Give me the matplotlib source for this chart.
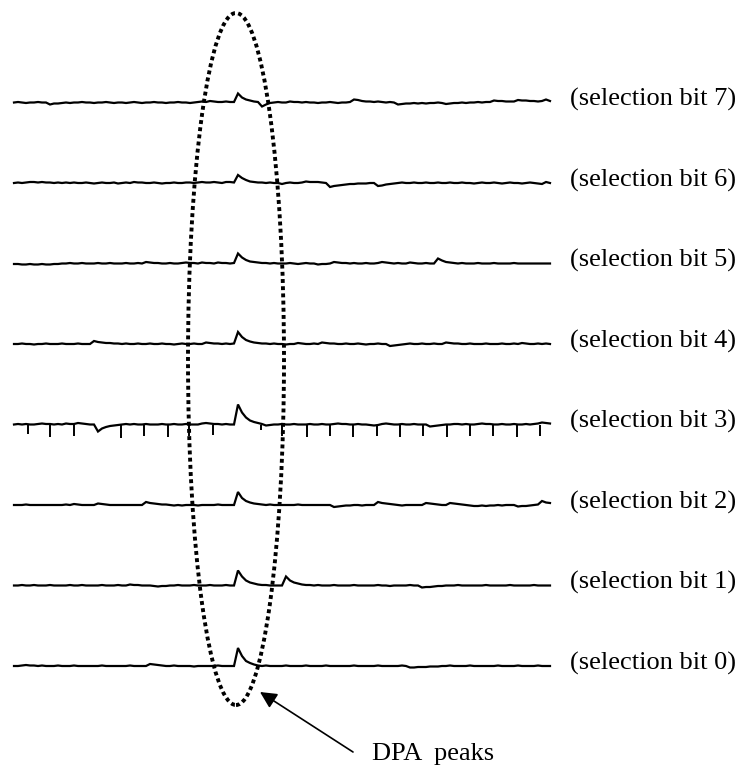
import matplotlib
matplotlib.use('Agg')
import matplotlib.pyplot as plt
from matplotlib.patches import Ellipse
import numpy as np

plt.rcParams['font.family'] = ['Liberation Serif', 'DejaVu Serif']

# power traces, one sample every 4 time units, values relative to each trace baseline
bit7 = [0, 0.5, 0, -0.5, 0, 0, 0.5, 0, 0, -2, -1, -1, -0.5, 0, -0.5,
        0, 0, 0.5, 0, 0, -0.5, 0, 0, 0.5, 0, -0.5, 0, 0, -0.5, 0,
        0.5, 0, -0.5, 0, 0, 0.5, 0, 0, -0.5, 0, 0, 0.5, 0, 0, -0.5,
        0, 0.5, 1, 0.5, 1.5, 1, 0.5, 0.5, 1, 0.5, 0.5, 9, 5, 3, 2,
        1, 0.5, -4, -2, -0.5, 0, 0.5, 0, 0, 1, 0.5, 0.5, 0, 0.5, 0,
        0, -0.5, 0, 0, 0.5, 0, -0.5, 0, 0, 0.5, 3, 2.5, 1.5, 1, 1,
        0.5, 1, 0.5, 0, 0.5, 0, -2, -1.5, -1, -1, -0.5, -1, -0.5, -1, -0.5,
        -0.5, 0, -0.5, -1.5, -1, -0.5, -0.5, 0, -0.5, 0, 0, 0.5, 0, 0.5, 0.5,
        2, 1.5, 1.5, 1, 1, 1, 2.5, 2, 2, 1.5, 1.5, 1, 1.5, 3, 1.5]

bit6 = [0, 0.5, 0, 0.5, 1, 1, 0.5, 1, 0.5, 0.5, 0, 0.5, 0, 0.5, 0,
        0.5, 0, 0, 0.5, 0, -0.5, 0, 0.5, 0, 0, 0.5, -0.5, 0, 0.5, 0,
        1, 0.5, 0.5, 0, 0, 0.5, 0, -0.5, 0, 0, 0.5, 0, 0, 0.5, 0.5,
        0, 0.5, 1, 0.5, 0.5, 1, 0.5, 0, 1, 1, 0.5, 8, 5, 3, 1.5,
        1, 0.5, 0.5, 0, 0.5, 0, 0, -1, 0, 0.5, 0, 0, 0.5, 1.5, 1,
        1, 1, 0.5, 0, -4, -3, -2.5, -2, -1.5, -1, -1, -0.5, -0.5, -0.5, 0,
        0, -3, -2.5, -1.5, -1, -0.5, 0, 0.5, 0, 0, 0.5, 0, 0, 0.5, 0,
        0, 0.5, 0, 0, 0.5, 0, 0, 0.5, 0, 0, -0.5, 0, 0.5, 0, 0,
        0.5, 0, -0.5, 0, 0.5, 0, 0, -0.5, 0, 0.5, 0, -0.5, -1, 1, 0]

bit5 = [-0.5, -0.5, -1, -1, -0.5, -1, -1, -0.5, -1, -1, -0.5, -0.5, 0, 0, 0.5,
        0, 0, 0.5, 0, 0, 0, 0.5, 0, 0, 0.5, 0, 0, 0, 0.5, 0,
        0, 0.5, 0, 1.5, 1, 0.5, 0.5, 0, 0, 0.5, 0, 0, 0.5, 1, 0.5,
        0.5, 0, 1, 0.5, 0.5, 0, 1, 0.5, 0.5, 0, 0.5, 10, 6, 3.5, 2,
        1.5, 1, 0.5, 0.5, 0, 0.5, 0, 0, 0, 0.5, 0, -0.5, 0, 0.5, 0,
        0, -1, -0.5, -0.5, 0, 1.5, 1, 0.5, 0.5, 0, 0.5, 0, 0, 0.5, 0,
        0, 0.5, 1.5, 1, 0.5, 0, 0.5, 0, 0, 1, 0.5, 0, 0, 0.5, 0,
        0, 5, 3, 1.5, 1, 0.5, 0, 0.5, 0, 0, 0, 0.5, 0, 0, 0,
        0.5, 0, 0, 0, 0, 0.5, 0, 0, 0, 0, 0, 0, 0, 0, 0]

bit4 = [0, 0, 0.5, 0, 0, -0.5, 0, 0, 0.5, 0, 0, 0, 0.5, 0, 0,
        0, 0.5, 0, 0, 0, 3, 2, 1.5, 1, 1, 0.5, 0.5, 0, 0.5, 0,
        0, 0.5, 0, 0, 0.5, 0, 0, 0.5, 0, 0, -0.5, 0, 0.5, 0, 0,
        0.5, 0, 0, 1.5, 1, 0.5, 0.5, 0, 0.5, 0, 0.5, 12, 7, 4, 2.5,
        1.5, 1, 0.5, 0.5, 0, 0.5, 0, 0, -0.5, 0, 0, 1, 0.5, 0, 0,
        0.5, 0, 1.5, 1, 0.5, 0.5, 0, 0, 0.5, 0, 0, 0.5, 0, -0.5, 0,
        0, 0.5, 0, 0, -2, -1.5, -1, -0.5, 0, 0.5, 0, 0, 0.5, 0, 0,
        0.5, 0, 0, 1.5, 1, 0.5, 0.5, 0, 0, 0.5, 0, 0, 0, 0.5, 0,
        0, 0, 0.5, 0, 0, 0.5, 0, 1, 0.5, 0, 0, 0.5, 0, 0.5, 0]

bit3 = [0, 0.5, 0, 0.5, 0, 0, 0.5, 1, 0.5, 0.5, 0, 0.5, 0, 1, 0.5,
        0.5, 1.5, 1, 0.5, 0, 0, -7, -4, -2.5, -1.5, -1, -0.5, 0, 0.5, 0,
        0.5, 0, 0, 0.5, 0, 0, 0, 0.5, 0, 0, 0.5, 0, 0, 0.5, 0,
        0, 0, 1, 1.5, 1, 0.5, 0.5, 0, 0.5, 0, 0, 20, 12, 7, 4,
        2.5, 1.5, 0.5, -1, -0.5, 0, 0, 0.5, 0, 0, 0.5, 0, 0, 0, 0.5,
        0, 0, 0.5, 0, 0, 0.5, 1, 0.5, 0.5, 0, 0, 0.5, 0, 0, -0.5,
        -1, -0.5, 0.5, 1, 0.5, 0, 0, 0.5, 0, 0, 0.5, 0, 0, 0, -2,
        -1.5, -1, -0.5, 0, 0, 0.5, 0.5, 0, 0.5, 0, 0, 0.5, 1, 0.5, 0.5,
        0, 0, 0.5, 0, 0, 0.5, 0, 0, 0.5, 0, 0.5, 1, 2, 1.5, 1]

bit2 = [0, 0, 0, 0.5, 0, 0, 0, 0, 0, 0, 0, 0, 0, 0.5, 0,
        1, 0.5, 0, 0, 0, 0, 1.5, 1, 0.5, 0, 0, 0, 0, 0, 0,
        0, 0, 0, 3, 2, 1.5, 1, 0.5, 0.5, 0, -0.5, 0, -0.5, 0, 0,
        0, -0.5, 0, 0, 0, 0, 0.5, 0, 0, 0, 0, 13, 7, 4, 2.5,
        1.5, 1, 0.5, 0, 0.5, 0, 0, 0, 0, 0, 0, 0.5, 0, 0, 0,
        0, 0, 0, 0, 0, -2, -1.5, -1, -0.5, -0.5, 0, 0, -0.5, 0, 0,
        0, 3, 2, 1.5, 1, 0.5, 0, -0.5, 0, 0, 0, 0, 0, 2, 1.5,
        1, 0.5, 0, 0, 2, 1.5, 1, 0.5, 0, -0.5, -1, -1, -0.5, -1, -0.5,
        -0.5, 0, -0.5, 0, 0, 0, -1.5, -1, -1, -0.5, 0, 0.5, 4, 2.5, 2]

bit1 = [0, 0, 0.5, 0, 0, 0.5, 0, 0, 0, 0.5, 0, 0, 0, 0, 0.5,
        0, 0, 0.5, 0, 0, 0, 0, 0.5, 0, 0, 0, 0.5, 0, 0, 1,
        0.5, 0.5, 0, 0, 0, -0.5, -1, -0.5, -0.5, 0, 0, 0.5, 0, 0, 0,
        0.5, 0, 0, 0, 0.5, 0, 0, 0, 0.5, 0, 0, 15, 9, 5, 3,
        2, 1, 0.5, 0.5, 0, 0, 0, 0, 9, 5, 3, 2, 1, 0.5, 0.5,
        0, 0.5, 0, 0, 0, 0.5, 0, 0, 0, 0, 0.5, 0, 0, 0, 0,
        0, 0.5, 0, 0, -0.5, 0, 0, 0, 0, 0.5, 0, 0, -2, -1.5, -1.5,
        -1, -0.5, -0.5, 0, 0, 0, 0.5, 0, 0, 0, 0, 0, 0, 0.5, 0,
        0, 0, 0, 0, 0.5, 0, 0, 0, 0, 0, 0.5, 0, 0, 0, 0]

bit0 = [0, 0, 0.5, 1, 0.5, 0.5, 0, 0.5, 0, 0, 0, 0.5, 0, 0, 0,
        0.5, 0, 0, 0, 0, 0, 0, 0.5, 0, 0, 0, 0, 0, 0, 0.5,
        0, 0, 0, 0, 2, 1.5, 1, 0.5, 0, 0, 0.5, 0, 0, 0, 0,
        -0.5, 0, 0, 0, 0, 0, 0.5, 0, 0, 0, 0, 18, 10, 5, 3,
        1.5, 0.5, 0, 0.5, 0, 0, 0, 0, 0.5, 0, 0, 0, 0, 0.5, 0,
        0, 0, 0, 0.5, 0, 0, 0, 0, 0, 0, 0.5, 0, 0, 0, 0,
        0, 0.5, 0, 0, 0, 0, 0, 0.5, 0, -1.5, -1.5, -1, -1, -1, -0.5,
        -0.5, -0.5, 0, 0, 0.5, 0, 0, 0, 0, 0.5, 0, 0, 0, 0, 0,
        0, 0.5, 0, 0, 0, 0, 0.5, 0, 0, 0, 0, 0.5, 0, 0, 0]

# short downward glitches that show up on the bit 3 trace
bit3_glitch_t = [3.5, 9, 15, 26.75, 32.5, 38.5, 43.75, 49.75, 61.75, 67, 73.25,
                 79, 84.75, 90.75, 96.5, 102.25, 108.25, 114, 119.75, 125.75, 131.5]
bit3_glitch_depth = [9, 12, 11, 13, 11, 12, 11, 10, 5, 11, 12,
                     11, 12, 11, 12, 11, 12, 11, 11, 12, 11]

traces = [bit0, bit1, bit2, bit3, bit4, bit5, bit6, bit7]
labels = ['(selection bit %d)' % k for k in range(8)]
peak_t = 56

spacing = 80.5

fig = plt.figure(figsize=(7.45, 7.73), dpi=100)
ax = fig.add_axes([0, 0, 1, 1])

for k, tr in enumerate(traces):
    base = k * spacing
    t = np.arange(len(tr))
    ax.plot(t, base + np.array(tr), color='black', lw=1.6, solid_joinstyle='miter')
    ax.text(139, base + 3, labels[k], fontsize=19, va='center', ha='left')

base3 = 3 * spacing
ax.vlines(bit3_glitch_t, base3, base3 - np.array(bit3_glitch_depth), color='black', lw=1.4)

# dotted ellipse round the DPA peaks
ell = Ellipse((peak_t - 0.5, 307), 24, 692, fill=False, edgecolor='black',
              lw=2.8, linestyle=(0, (1.0, 0.85)))
ax.add_patch(ell)

ax.annotate('', xy=(61.5, -26), xytext=(84.75, -86),
            arrowprops=dict(arrowstyle='-|>', color='black', lw=1.2, mutation_scale=25,
                            shrinkA=0, shrinkB=0))
ax.text(89.5, -88, 'DPA  peaks', fontsize=19, va='center', ha='left')

ax.set_xlim(-3.5, 182.75)
ax.set_ylim(-107, 666)
ax.axis('off')

fig.savefig('out.png', dpi=100)
